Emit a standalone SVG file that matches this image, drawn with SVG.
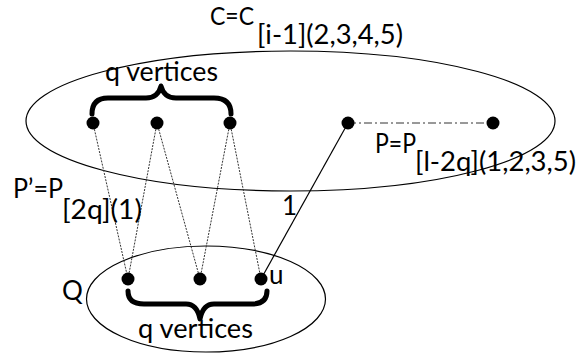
<svg xmlns="http://www.w3.org/2000/svg" width="579" height="354" viewBox="0 0 579 354">
<style>
text{font-family:Lato,"Open Sans","Liberation Sans",sans-serif;font-size:26px;fill:#000}
.ell{fill:none;stroke:#000;stroke-width:1.2}
.dot{fill:#000}
.dl{stroke:#333;stroke-width:1;stroke-dasharray:2 1.2;fill:none}
.sl{stroke:#000;stroke-width:1.2;fill:none}
.dd{stroke:#333;stroke-width:1;stroke-dasharray:8 3 2 3;fill:none}
.br{fill:none;stroke:#000;stroke-width:5;stroke-linecap:round;stroke-linejoin:round}
</style>
<rect width="579" height="354" fill="#fff"/>
<g id="C">
<ellipse class="ell" cx="290.5" cy="121" rx="264.5" ry="70"/>
<text x="210" y="25" style="font-size:25px" textLength="44" lengthAdjust="spacingAndGlyphs">C=C</text>
<text x="257" y="44" textLength="146" lengthAdjust="spacingAndGlyphs">[i-1](2,3,4,5)</text>
</g>
<g id="Q">
<ellipse class="ell" cx="206" cy="299" rx="119.5" ry="53"/>
<text x="62" y="300">Q</text>
</g>
<g id="connectors">
<line class="dl" x1="93" y1="123" x2="128" y2="279"/>
<line class="dl" x1="157" y1="123" x2="128" y2="279"/>
<line class="dl" x1="157" y1="123" x2="200" y2="279"/>
<line class="dl" x1="230" y1="123" x2="200" y2="279"/>
<line class="dl" x1="230" y1="123" x2="261" y2="279"/>
<line class="sl" x1="348" y1="123" x2="261" y2="279"/>
<line class="dd" x1="348" y1="123" x2="493" y2="123"/>
<text x="282" y="215">1</text>
</g>
<g id="top-brace">
<path class="br" d="M92,114 Q92,98 108,98 L146,98 Q158,98 161,86 Q164,98 176,98 L214,98 Q231,98 231,114"/>
<text x="105" y="81" textLength="113" lengthAdjust="spacingAndGlyphs">q vertices</text>
</g>
<g id="bottom-brace">
<path class="br" d="M128,291 Q128,304 144,304 L186,304 Q197,304 200,319 Q203,304 214,304 L252,304 Q267,304 267,291"/>
<text x="138" y="338" textLength="115" lengthAdjust="spacingAndGlyphs">q vertices</text>
</g>
<g id="v1"><circle class="dot" cx="93" cy="123" r="6.5"/></g>
<g id="v2"><circle class="dot" cx="157" cy="123" r="6.5"/></g>
<g id="v3"><circle class="dot" cx="230" cy="123" r="6.5"/></g>
<g id="p1"><circle class="dot" cx="348" cy="123" r="6.5"/></g>
<g id="p2"><circle class="dot" cx="493" cy="123" r="6.5"/></g>
<g id="q1"><circle class="dot" cx="128" cy="279" r="6.5"/></g>
<g id="q2"><circle class="dot" cx="200" cy="279" r="6.5"/></g>
<g id="u"><circle class="dot" cx="261" cy="279" r="6.5"/><text x="269" y="284">u</text></g>
<g id="P">
<text x="375" y="153" textLength="41" lengthAdjust="spacingAndGlyphs">P=P</text>
<text x="415" y="171" textLength="161" lengthAdjust="spacingAndGlyphs">[l-2q](1,2,3,5)</text>
</g>
<g id="Pprime">
<text x="13" y="198" textLength="50" lengthAdjust="spacingAndGlyphs">P’=P</text>
<text x="62" y="219" textLength="80" lengthAdjust="spacingAndGlyphs">[2q](1)</text>
</g>
</svg>
